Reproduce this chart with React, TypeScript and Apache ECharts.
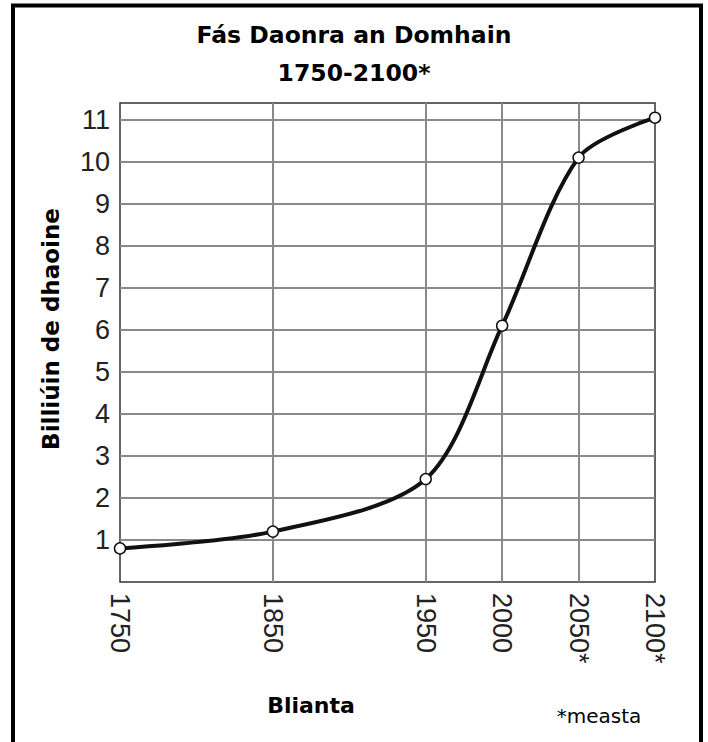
import React, { useEffect, useRef } from "react";
import * as echarts from "echarts";

const years = [1750, 1850, 1950, 2000, 2050, 2100];
const population = [0.8, 1.2, 2.45, 6.1, 10.1, 11.05];
const tickYears = [1750, 1850, 1950, 2000, 2050, 2100];
const estimatedFrom = 2050;
const titleLines = ["Fás Daonra an Domhain", "1750-2100*"];
const yName = "Billiúin de dhaoine";
const xName = "Blianta";
const note = "*measta";

export default function App() {
  const ref = useRef<HTMLDivElement>(null);
  useEffect(() => {
    if (!ref.current) return;
    const chart = echarts.init(ref.current, undefined, { renderer: "svg" });
    const labelFont = "'Liberation Sans', Arial, sans-serif";
    chart.setOption({
      animation: false,
      backgroundColor: "#fff",
      title: {
        text: titleLines.join("\n"),
        left: "center",
        top: 11,
        textStyle: {
          fontFamily: "'DejaVu Sans', sans-serif",
          fontWeight: "bold",
          fontSize: 23.5,
          lineHeight: 38,
          color: "#000",
        },
      },
      grid: {
        left: 120,
        right: 53,
        top: 103,
        bottom: 160,
        show: true,
        borderColor: "#333",
        borderWidth: 1.5,
      },
      xAxis: {
        type: "value",
        min: 1750,
        max: 2100,
        axisLine: { show: false },
        axisTick: { show: false, customValues: tickYears },
        axisLabel: {
          customValues: tickYears,
          rotate: -90,
          fontSize: 27,
          fontFamily: labelFont,
          color: "#222",
          margin: 11,
          formatter: (v: number) => (v >= estimatedFrom ? v + "*" : String(v)),
        },
        splitLine: {
          show: true,
          showMinLine: false,
          showMaxLine: false,
          lineStyle: { color: "#8a8a8a", width: 2 },
        },
      },
      yAxis: {
        type: "value",
        min: 0,
        max: 11.4,
        interval: 1,
        axisLine: { show: false },
        axisTick: { show: false },
        axisLabel: {
          fontSize: 27,
          fontFamily: labelFont,
          color: "#222",
          margin: 10,
          formatter: (v: number) => (v >= 1 && Number.isInteger(v) ? String(v) : ""),
        },
        splitLine: {
          show: true,
          showMinLine: false,
          showMaxLine: false,
          lineStyle: { color: "#8a8a8a", width: 2 },
        },
      },
      series: [
        {
          type: "line",
          data: years.map((y, i) => [y, population[i]]),
          smooth: 0.3,
          symbol: "circle",
          symbolSize: 11,
          showAllSymbol: true,
          lineStyle: { color: "#111", width: 4 },
          itemStyle: { color: "#fff", borderColor: "#111", borderWidth: 1.5 },
          z: 5,
        },
      ],
      graphic: [
        {
          type: "rect",
          shape: { x: 13, y: 5.5, width: 688, height: 780 },
          style: { fill: "none", stroke: "#000", lineWidth: 4 },
          silent: true,
        },
        {
          type: "text",
          x: 51,
          y: 329,
          rotation: Math.PI / 2,
          style: {
            text: yName,
            fontFamily: "'DejaVu Sans', sans-serif",
            fontWeight: "bold",
            fontSize: 23,
            fill: "#000",
            align: "center",
            verticalAlign: "middle",
          },
        },
        {
          type: "text",
          x: 311,
          y: 705,
          style: {
            text: xName,
            fontFamily: "'DejaVu Sans', sans-serif",
            fontWeight: "bold",
            fontSize: 22,
            fill: "#000",
            align: "center",
            verticalAlign: "middle",
          },
        },
        {
          type: "text",
          x: 599,
          y: 716,
          style: {
            text: note,
            fontFamily: "'DejaVu Sans', sans-serif",
            fontSize: 20,
            fill: "#000",
            align: "center",
            verticalAlign: "middle",
          },
        },
      ],
    });
    return () => chart.dispose();
  }, []);
  return (
    <div
      ref={ref}
      style={{ position: "fixed", left: 0, top: 0, width: 708, height: 742 }}
    />
  );
}
